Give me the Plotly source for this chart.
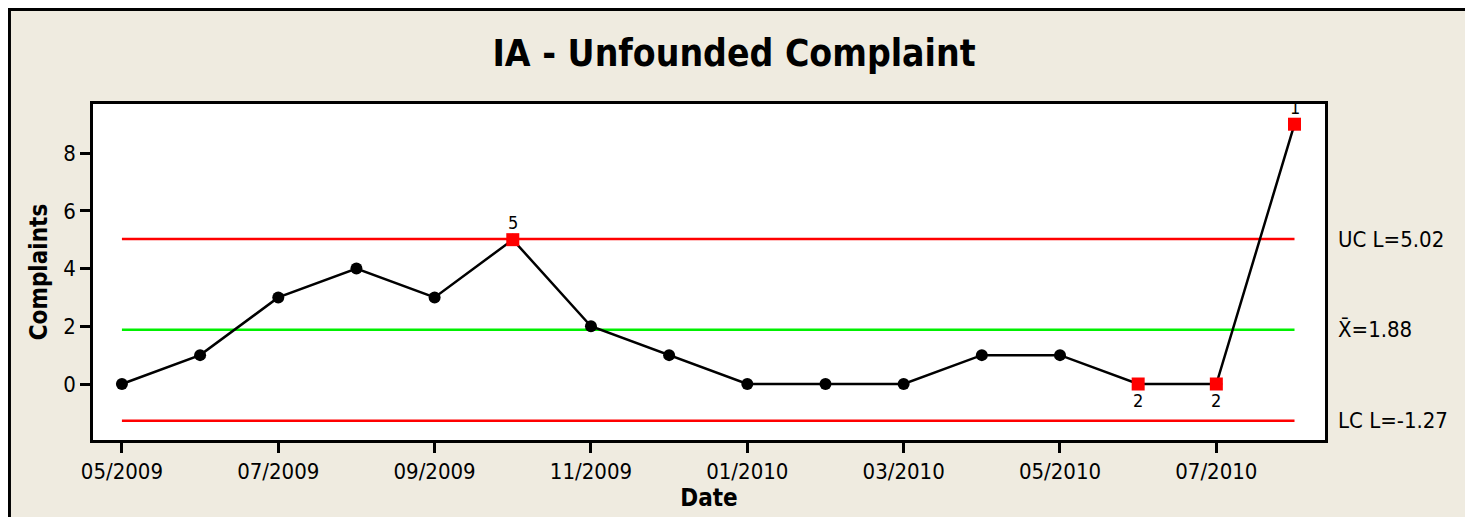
import plotly.graph_objects as go

months = ["05/2009", "06/2009", "07/2009", "08/2009", "09/2009", "10/2009", "11/2009", "12/2009",
          "01/2010", "02/2010", "03/2010", "04/2010", "05/2010", "06/2010", "07/2010", "08/2010"]
complaints = [0, 1, 3, 4, 3, 5, 2, 1, 0, 0, 0, 1, 1, 0, 0, 9]
flagged_idx = [5, 13, 14, 15]
flag_labels = ["5", "2", "2", "1"]
ucl, center, lcl = 5.02, 1.88, -1.27
limit_labels = ["UC L=5.02", "X\u0304=1.88", "LC L=-1.27"]
tick_idx = [0, 2, 4, 6, 8, 10, 12, 14]

FONT = "DejaVu Sans Condensed"
x = list(range(len(months)))
fig = go.Figure()

# control lines
for val, col in [(ucl, "#FF0000"), (center, "#00F000"), (lcl, "#FF0000")]:
    fig.add_trace(go.Scatter(x=[x[0], x[-1]], y=[val, val], mode="lines",
                             line=dict(color=col, width=2.5), hoverinfo="skip", showlegend=False))

fig.add_trace(go.Scatter(x=x, y=complaints, mode="lines+markers",
                         line=dict(color="black", width=2.5),
                         marker=dict(color="black", size=12, symbol="circle"),
                         showlegend=False))

fig.add_trace(go.Scatter(x=[x[i] for i in flagged_idx], y=[complaints[i] for i in flagged_idx],
                         mode="markers", marker=dict(color="#FF0000", size=13, symbol="square"),
                         showlegend=False, cliponaxis=False))

for i, lab in zip(flagged_idx, flag_labels):
    above = complaints[i] >= center
    fig.add_annotation(x=x[i], y=complaints[i], text=lab, showarrow=False,
                       yshift=17 if above else -16,
                       font=dict(size=18, color="black", family=FONT))

for val, txt in zip([ucl, center, lcl], limit_labels):
    fig.add_annotation(xref="paper", x=1.0, y=val, yref="y", text=txt, showarrow=False,
                       xanchor="left", xshift=11,
                       font=dict(size=22, color="black", family=FONT))

# outer border
fig.add_shape(type="rect", xref="paper", yref="paper", x0=-0.0678, x1=1.1169, y0=-0.4, y1=1.2813,
              line=dict(color="black", width=3), layer="below")

fig.update_layout(
    width=1465, height=509,
    paper_bgcolor="#EFEBE0", plot_bgcolor="white",
    margin=dict(l=85, r=148, t=96, b=77),
    title=dict(text="<b>IA - Unfounded Complaint</b>", x=0.4956, xref="container", xanchor="center",
               y=0.912, yanchor="middle",
               font=dict(size=37, color="black", family=FONT)),
    font=dict(family=FONT, color="black"),
    xaxis=dict(range=[-0.37, 15.39], tickvals=[x[i] for i in tick_idx], ticktext=[months[i] for i in tick_idx],
               ticks="outside", ticklen=10, tickwidth=2.5, tickcolor="black",
               showline=True, linecolor="black", linewidth=2.5, mirror=True, showgrid=False, zeroline=False,
               tickfont=dict(size=22),
               title=dict(text="<b>Date</b>", font=dict(size=24), standoff=3)),
    yaxis=dict(range=[-1.94, 9.70], tickvals=[0, 2, 4, 6, 8],
               ticks="outside", ticklen=10, tickwidth=2.5, tickcolor="black",
               showline=True, linecolor="black", linewidth=2.5, mirror=True, showgrid=False, zeroline=False,
               tickfont=dict(size=22),
               title=dict(text="<b>Complaints</b>", font=dict(size=24), standoff=9)),
)

fig.write_html("out.html")
